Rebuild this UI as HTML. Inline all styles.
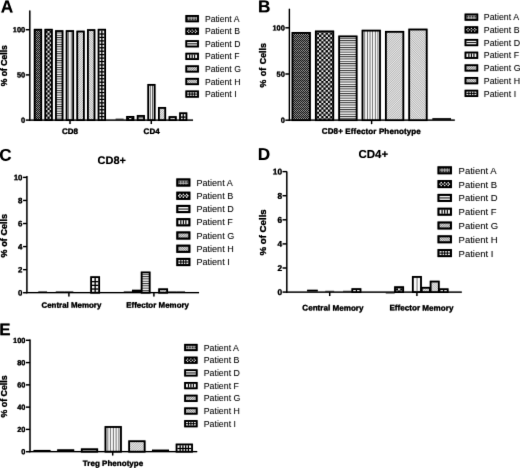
<!DOCTYPE html>
<html><head><meta charset="utf-8"><title>Figure</title>
<style>
html,body{margin:0;padding:0;background:#fff;}
body{width:520px;height:468px;overflow:hidden;}
svg{display:block;font-family:"Liberation Sans",sans-serif;fill:#000;}
</style></head><body>
<svg width="520" height="468" viewBox="0 0 520 468">
<defs>
<filter id="soft" x="0" y="0" width="520" height="468" filterUnits="userSpaceOnUse" color-interpolation-filters="sRGB"><feConvolveMatrix order="3" kernelMatrix="0 1 0 1 8 1 0 1 0" edgeMode="duplicate" preserveAlpha="true"/><feComponentTransfer><feFuncR type="gamma" exponent="1.35"/><feFuncG type="gamma" exponent="1.35"/><feFuncB type="gamma" exponent="1.35"/></feComponentTransfer></filter>
<!-- bar patterns -->
<pattern id="pA" width="2" height="4" patternUnits="userSpaceOnUse"><rect width="2" height="4" fill="#060606"/><rect x="0" y="0" width="1" height="1" fill="#e0e0e0"/><rect x="1" y="1" width="1" height="1" fill="#d0d0d0"/><rect x="0" y="2" width="1" height="1" fill="#b8b8b8"/><rect x="1" y="3" width="1" height="1" fill="#c8c8c8"/></pattern>
<pattern id="pB" width="4.4" height="4.4" patternUnits="userSpaceOnUse"><rect width="4.4" height="4.4" fill="#000"/><rect x="0" y="0" width="2.2" height="2.2" fill="#fff"/><rect x="2.2" y="2.2" width="2.2" height="2.2" fill="#fff"/></pattern>
<pattern id="pD" width="2.3" height="2.3" patternUnits="userSpaceOnUse"><rect width="2.3" height="2.3" fill="#fff"/><rect y="0" width="2.3" height="0.95" fill="#505050"/></pattern>
<pattern id="pF" width="2.55" height="2.55" patternUnits="userSpaceOnUse"><rect width="2.55" height="2.55" fill="#fff"/><rect x="0.85" width="0.7" height="2.55" fill="#585858"/></pattern>
<pattern id="pG" width="1.6" height="1.6" patternUnits="userSpaceOnUse" patternTransform="rotate(-45)"><rect width="1.6" height="1.6" fill="#fafafa"/><rect width="1.6" height="0.36" fill="#707070"/></pattern>
<pattern id="pH" width="1.6" height="1.6" patternUnits="userSpaceOnUse" patternTransform="rotate(45)"><rect width="1.6" height="1.6" fill="#fafafa"/><rect width="1.6" height="0.36" fill="#707070"/></pattern>
<pattern id="pI" width="3.1" height="3.1" patternUnits="userSpaceOnUse"><rect width="3.1" height="3.1" fill="#fff"/><rect width="3.1" height="0.8" fill="#111"/><rect width="0.8" height="3.1" fill="#111"/></pattern>
<!-- legend swatch fills (tiny interior) -->
<pattern id="pAs" width="1.6" height="1.6" patternUnits="userSpaceOnUse"><rect width="1.6" height="1.6" fill="#c4c4c4"/><rect width="0.8" height="0.8" fill="#222"/></pattern>
<pattern id="pGs" width="1.6" height="1.6" patternUnits="userSpaceOnUse" patternTransform="rotate(-45)"><rect width="1.6" height="1.6" fill="#f2f2f2"/><rect width="1.6" height="0.5" fill="#666"/></pattern>
<pattern id="pHs" width="1.6" height="1.6" patternUnits="userSpaceOnUse" patternTransform="rotate(45)"><rect width="1.6" height="1.6" fill="#f2f2f2"/><rect width="1.6" height="0.5" fill="#666"/></pattern>
</defs>
<g filter="url(#soft)">
<rect width="520" height="468" fill="#fff"/>

<!-- Panel A -->
<text transform="translate(0.7,12.4) rotate(0.05)" font-size="17.3" font-weight="bold" text-anchor="start" stroke="none">A</text>
<line x1="29.8" y1="10.549999999999999" x2="29.8" y2="120.75" stroke="#000" stroke-width="1.3"/>
<line x1="25.8" y1="120.1" x2="29.8" y2="120.1" stroke="#000" stroke-width="1.3"/>
<text transform="translate(25.2,122.75) rotate(0.05)" font-size="7.4" font-weight="bold" text-anchor="end" stroke="#000" stroke-width="0.2" >0</text>
<line x1="25.8" y1="74.89999999999999" x2="29.8" y2="74.89999999999999" stroke="#000" stroke-width="1.3"/>
<text transform="translate(25.2,77.55) rotate(0.05)" font-size="7.4" font-weight="bold" text-anchor="end" stroke="#000" stroke-width="0.2" >50</text>
<line x1="25.8" y1="29.69999999999999" x2="29.8" y2="29.69999999999999" stroke="#000" stroke-width="1.3"/>
<text transform="translate(25.2,32.35) rotate(0.05)" font-size="7.4" font-weight="bold" text-anchor="end" stroke="#000" stroke-width="0.2" >100</text>
<line x1="29.150000000000002" y1="120.1" x2="193" y2="120.1" stroke="#000" stroke-width="1.3"/>
<line x1="70" y1="120.1" x2="70" y2="124.0" stroke="#000" stroke-width="1.3"/>
<line x1="151.3" y1="120.1" x2="151.3" y2="124.0" stroke="#000" stroke-width="1.3"/>
<pattern id="pA_1" href="#pA" x="36.00" y="31.00"/>
<rect x="34.65" y="29.70" width="6.60" height="90.40" fill="url(#pA_1)" stroke="#000" stroke-width="1.7"/>
<pattern id="pB_2" href="#pB" x="3.50" y="30.85"/>
<rect x="45.30" y="29.70" width="6.60" height="90.40" fill="url(#pB_2)" stroke="#000" stroke-width="1.7"/>
<pattern id="pD_3" href="#pD" x="56.80" y="32.51"/>
<rect x="55.95" y="31.06" width="6.60" height="89.04" fill="url(#pD_3)" stroke="#000" stroke-width="1.7"/>
<pattern id="pF_4" href="#pF" x="-30.52" y="31.91" width="2.450"/>
<rect x="66.60" y="31.06" width="6.60" height="89.04" fill="url(#pF_4)" stroke="#000" stroke-width="1.7"/>
<pattern id="pG_5" href="#pG" x="78.10" y="32.96"/>
<rect x="77.25" y="31.51" width="6.60" height="88.59" fill="url(#pG_5)" stroke="#000" stroke-width="1.7"/>
<pattern id="pH_6" href="#pH" x="88.75" y="31.51"/>
<rect x="87.90" y="30.06" width="6.60" height="90.04" fill="url(#pH_6)" stroke="#000" stroke-width="1.7"/>
<rect x="98.55" y="29.70" width="6.60" height="90.40" fill="#fff" stroke="#000" stroke-width="1.7"/>
<rect x="101.28" y="30.55" width="1.15" height="89.55" fill="#000"/>
<rect x="99.40" y="33.42" width="4.90" height="1.15" fill="#000"/>
<rect x="99.40" y="36.86" width="4.90" height="1.15" fill="#000"/>
<rect x="99.40" y="40.31" width="4.90" height="1.15" fill="#000"/>
<rect x="99.40" y="43.75" width="4.90" height="1.15" fill="#000"/>
<rect x="99.40" y="47.20" width="4.90" height="1.15" fill="#000"/>
<rect x="99.40" y="50.64" width="4.90" height="1.15" fill="#000"/>
<rect x="99.40" y="54.08" width="4.90" height="1.15" fill="#000"/>
<rect x="99.40" y="57.53" width="4.90" height="1.15" fill="#000"/>
<rect x="99.40" y="60.97" width="4.90" height="1.15" fill="#000"/>
<rect x="99.40" y="64.42" width="4.90" height="1.15" fill="#000"/>
<rect x="99.40" y="67.86" width="4.90" height="1.15" fill="#000"/>
<rect x="99.40" y="71.31" width="4.90" height="1.15" fill="#000"/>
<rect x="99.40" y="74.75" width="4.90" height="1.15" fill="#000"/>
<rect x="99.40" y="78.19" width="4.90" height="1.15" fill="#000"/>
<rect x="99.40" y="81.64" width="4.90" height="1.15" fill="#000"/>
<rect x="99.40" y="85.08" width="4.90" height="1.15" fill="#000"/>
<rect x="99.40" y="88.53" width="4.90" height="1.15" fill="#000"/>
<rect x="99.40" y="91.97" width="4.90" height="1.15" fill="#000"/>
<rect x="99.40" y="95.42" width="4.90" height="1.15" fill="#000"/>
<rect x="99.40" y="98.86" width="4.90" height="1.15" fill="#000"/>
<rect x="99.40" y="102.30" width="4.90" height="1.15" fill="#000"/>
<rect x="99.40" y="105.75" width="4.90" height="1.15" fill="#000"/>
<rect x="99.40" y="109.19" width="4.90" height="1.15" fill="#000"/>
<rect x="99.40" y="112.64" width="4.90" height="1.15" fill="#000"/>
<rect x="99.40" y="116.08" width="4.90" height="1.15" fill="#000"/>
<rect x="115.60" y="118.75" width="8.00" height="0.70" fill="#000"/>
<pattern id="pB_7" href="#pB" x="85.15" y="118.00"/>
<rect x="127.05" y="116.85" width="6.40" height="3.25" fill="url(#pB_7)" stroke="#000" stroke-width="1.7"/>
<pattern id="pD_8" href="#pD" x="138.50" y="117.39"/>
<rect x="137.65" y="115.94" width="6.40" height="4.16" fill="url(#pD_8)" stroke="#000" stroke-width="1.7"/>
<pattern id="pF_9" href="#pF" x="55.08" y="85.69" width="2.350"/>
<rect x="148.25" y="84.84" width="6.40" height="35.26" fill="url(#pF_9)" stroke="#000" stroke-width="1.7"/>
<pattern id="pG_10" href="#pG" x="159.70" y="109.35"/>
<rect x="158.85" y="107.90" width="6.40" height="12.20" fill="url(#pG_10)" stroke="#000" stroke-width="1.7"/>
<pattern id="pH_11" href="#pH" x="170.30" y="118.48"/>
<rect x="169.45" y="117.03" width="6.40" height="3.07" fill="url(#pH_11)" stroke="#000" stroke-width="1.7"/>
<rect x="180.05" y="113.23" width="6.40" height="6.87" fill="#fff" stroke="#000" stroke-width="1.7"/>
<rect x="182.67" y="114.08" width="1.15" height="6.02" fill="#000"/>
<rect x="180.90" y="116.51" width="4.70" height="1.15" fill="#000"/>
<text transform="translate(70,133.9) rotate(0.05)" font-size="8.0" font-weight="bold" text-anchor="middle" stroke="#000" stroke-width="0.2" >CD8</text>
<text transform="translate(151.6,133.9) rotate(0.05)" font-size="8.0" font-weight="bold" text-anchor="middle" stroke="#000" stroke-width="0.2" >CD4</text>
<text transform="translate(6.8,65.7) rotate(-90)" font-size="8.6" font-weight="bold" text-anchor="middle" stroke="#000" stroke-width="0.2" >% of Cells</text>
<rect x="185.40" y="15.05" width="13.5" height="7.2" fill="#000"/>
<rect x="187.16" y="16.81" width="9.97" height="3.67" fill="url(#pAs)"/>
<text x="204.9" y="21.75" font-size="8.65" font-weight="normal" text-anchor="start" fill="#262626">Patient A</text>
<rect x="185.40" y="27.62" width="13.5" height="7.2" fill="#000"/>
<circle cx="188.83" cy="29.96" r="0.77" fill="#fff"/>
<circle cx="188.83" cy="32.48" r="0.77" fill="#fff"/>
<circle cx="192.15" cy="29.96" r="0.77" fill="#fff"/>
<circle cx="192.15" cy="32.48" r="0.77" fill="#fff"/>
<circle cx="195.47" cy="29.96" r="0.77" fill="#fff"/>
<circle cx="195.47" cy="32.48" r="0.77" fill="#fff"/>
<circle cx="187.63" cy="31.22" r="0.77" fill="#fff"/>
<circle cx="190.49" cy="31.22" r="0.77" fill="#fff"/>
<circle cx="193.81" cy="31.22" r="0.77" fill="#fff"/>
<circle cx="196.67" cy="31.22" r="0.77" fill="#fff"/>
<text x="204.9" y="34.32" font-size="8.65" font-weight="normal" text-anchor="start" fill="#262626">Patient B</text>
<rect x="185.40" y="40.19" width="13.5" height="7.2" fill="#000"/>
<rect x="187.16" y="41.95" width="9.97" height="3.67" fill="#fff"/>
<rect x="187.16" y="43.39" width="9.97" height="0.9" fill="#181818"/>
<text x="204.9" y="46.89" font-size="8.65" font-weight="normal" text-anchor="start" fill="#262626">Patient D</text>
<rect x="185.40" y="52.76" width="13.5" height="7.2" fill="#000"/>
<rect x="187.16" y="54.52" width="9.97" height="3.67" fill="#fff"/>
<rect x="189.16" y="54.52" width="1.0" height="3.67" fill="#000"/>
<rect x="191.65" y="54.52" width="1.0" height="3.67" fill="#000"/>
<rect x="194.14" y="54.52" width="1.0" height="3.67" fill="#000"/>
<text x="204.9" y="59.46" font-size="8.65" font-weight="normal" text-anchor="start" fill="#262626">Patient F</text>
<rect x="185.40" y="65.33" width="13.5" height="7.2" fill="#000"/>
<rect x="187.16" y="67.09" width="9.97" height="3.67" fill="url(#pGs)"/>
<text x="204.9" y="72.03" font-size="8.65" font-weight="normal" text-anchor="start" fill="#262626">Patient G</text>
<rect x="185.40" y="77.90" width="13.5" height="7.2" fill="#000"/>
<rect x="187.16" y="79.66" width="9.97" height="3.67" fill="url(#pHs)"/>
<text x="204.9" y="84.6" font-size="8.65" font-weight="normal" text-anchor="start" fill="#262626">Patient H</text>
<rect x="185.40" y="90.47" width="13.5" height="7.2" fill="#000"/>
<rect x="187.16" y="92.23" width="9.97" height="3.67" fill="#fff"/>
<rect x="189.21" y="92.23" width="0.9" height="3.67" fill="#000"/>
<rect x="191.70" y="92.23" width="0.9" height="3.67" fill="#000"/>
<rect x="194.19" y="92.23" width="0.9" height="3.67" fill="#000"/>
<rect x="187.16" y="93.62" width="9.97" height="0.9" fill="#000"/>
<text x="204.9" y="97.17" font-size="8.65" font-weight="normal" text-anchor="start" fill="#262626">Patient I</text>
<!-- Panel B -->
<text transform="translate(257.9,12.3) rotate(0.05)" font-size="17.2" font-weight="bold" text-anchor="start" stroke="none">B</text>
<line x1="289.4" y1="8.75" x2="289.4" y2="120.85000000000001" stroke="#000" stroke-width="1.3"/>
<line x1="285.4" y1="120.2" x2="289.4" y2="120.2" stroke="#000" stroke-width="1.3"/>
<text transform="translate(284.8,122.85) rotate(0.05)" font-size="7.4" font-weight="bold" text-anchor="end" stroke="#000" stroke-width="0.2" >0</text>
<line x1="285.4" y1="74.0" x2="289.4" y2="74.0" stroke="#000" stroke-width="1.3"/>
<text transform="translate(284.8,76.65) rotate(0.05)" font-size="7.4" font-weight="bold" text-anchor="end" stroke="#000" stroke-width="0.2" >50</text>
<line x1="285.4" y1="27.799999999999997" x2="289.4" y2="27.799999999999997" stroke="#000" stroke-width="1.3"/>
<text transform="translate(284.8,30.45) rotate(0.05)" font-size="7.4" font-weight="bold" text-anchor="end" stroke="#000" stroke-width="0.2" >100</text>
<line x1="288.75" y1="120.2" x2="454.8" y2="120.2" stroke="#000" stroke-width="1.3"/>
<line x1="371.6" y1="120.2" x2="371.6" y2="124.10000000000001" stroke="#000" stroke-width="1.3"/>
<pattern id="pA_12" href="#pA" x="293.00" y="34.00"/>
<rect x="292.45" y="32.90" width="17.50" height="87.30" fill="url(#pA_12)" stroke="#000" stroke-width="1.7"/>
<pattern id="pB_13" href="#pB" x="279.45" y="32.55"/>
<rect x="315.80" y="31.40" width="17.50" height="88.80" fill="url(#pB_13)" stroke="#000" stroke-width="1.7"/>
<pattern id="pD_14" href="#pD" x="340.00" y="37.85"/>
<rect x="339.15" y="36.40" width="17.50" height="83.80" fill="url(#pD_14)" stroke="#000" stroke-width="1.7"/>
<pattern id="pF_15" href="#pF" x="258.13" y="31.45" width="2.633"/>
<rect x="362.50" y="30.60" width="17.50" height="89.60" fill="url(#pF_15)" stroke="#000" stroke-width="1.7"/>
<pattern id="pG_16" href="#pG" x="386.70" y="33.25"/>
<rect x="385.85" y="31.80" width="17.50" height="88.40" fill="url(#pG_16)" stroke="#000" stroke-width="1.7"/>
<pattern id="pH_17" href="#pH" x="410.05" y="30.95"/>
<rect x="409.20" y="29.50" width="17.50" height="90.70" fill="url(#pH_17)" stroke="#000" stroke-width="1.7"/>
<rect x="432.40" y="118.25" width="18.60" height="1.50" fill="#000"/>
<text transform="translate(371.3,133.9) rotate(0.05)" font-size="8.0" font-weight="bold" text-anchor="middle" stroke="#000" stroke-width="0.2" textLength="99.0">CD8+ Effector Phenotype</text>
<text transform="translate(266.4,65.4) rotate(-90)" font-size="8.8" font-weight="bold" text-anchor="middle" stroke="#000" stroke-width="0.2" word-spacing="1.2">% of Cells</text>
<rect x="464.60" y="13.55" width="13.6" height="7.2" fill="#000"/>
<rect x="466.36" y="15.31" width="10.07" height="3.67" fill="url(#pAs)"/>
<text x="483.8" y="20.3" font-size="8.8" font-weight="normal" text-anchor="start" fill="#262626">Patient A</text>
<rect x="464.60" y="26.25" width="13.6" height="7.2" fill="#000"/>
<circle cx="468.04" cy="28.59" r="0.77" fill="#fff"/>
<circle cx="468.04" cy="31.11" r="0.77" fill="#fff"/>
<circle cx="471.40" cy="28.59" r="0.77" fill="#fff"/>
<circle cx="471.40" cy="31.11" r="0.77" fill="#fff"/>
<circle cx="474.76" cy="28.59" r="0.77" fill="#fff"/>
<circle cx="474.76" cy="31.11" r="0.77" fill="#fff"/>
<circle cx="466.83" cy="29.85" r="0.77" fill="#fff"/>
<circle cx="469.72" cy="29.85" r="0.77" fill="#fff"/>
<circle cx="473.08" cy="29.85" r="0.77" fill="#fff"/>
<circle cx="475.97" cy="29.85" r="0.77" fill="#fff"/>
<text x="483.8" y="33.0" font-size="8.8" font-weight="normal" text-anchor="start" fill="#262626">Patient B</text>
<rect x="464.60" y="38.95" width="13.6" height="7.2" fill="#000"/>
<rect x="466.36" y="40.71" width="10.07" height="3.67" fill="#fff"/>
<rect x="466.36" y="42.15" width="10.07" height="0.9" fill="#181818"/>
<text x="483.8" y="45.7" font-size="8.8" font-weight="normal" text-anchor="start" fill="#262626">Patient D</text>
<rect x="464.60" y="51.65" width="13.6" height="7.2" fill="#000"/>
<rect x="466.36" y="53.41" width="10.07" height="3.67" fill="#fff"/>
<rect x="468.38" y="53.41" width="1.0" height="3.67" fill="#000"/>
<rect x="470.90" y="53.41" width="1.0" height="3.67" fill="#000"/>
<rect x="473.42" y="53.41" width="1.0" height="3.67" fill="#000"/>
<text x="483.8" y="58.4" font-size="8.8" font-weight="normal" text-anchor="start" fill="#262626">Patient F</text>
<rect x="464.60" y="64.35" width="13.6" height="7.2" fill="#000"/>
<rect x="466.36" y="66.11" width="10.07" height="3.67" fill="url(#pGs)"/>
<text x="483.8" y="71.1" font-size="8.8" font-weight="normal" text-anchor="start" fill="#262626">Patient G</text>
<rect x="464.60" y="77.05" width="13.6" height="7.2" fill="#000"/>
<rect x="466.36" y="78.81" width="10.07" height="3.67" fill="url(#pHs)"/>
<text x="483.8" y="83.8" font-size="8.8" font-weight="normal" text-anchor="start" fill="#262626">Patient H</text>
<rect x="464.60" y="89.75" width="13.6" height="7.2" fill="#000"/>
<rect x="466.36" y="91.51" width="10.07" height="3.67" fill="#fff"/>
<rect x="468.43" y="91.51" width="0.9" height="3.67" fill="#000"/>
<rect x="470.95" y="91.51" width="0.9" height="3.67" fill="#000"/>
<rect x="473.47" y="91.51" width="0.9" height="3.67" fill="#000"/>
<rect x="466.36" y="92.90" width="10.07" height="0.9" fill="#000"/>
<text x="483.8" y="96.5" font-size="8.8" font-weight="normal" text-anchor="start" fill="#262626">Patient I</text>
<!-- Panel C -->
<text transform="translate(-0.7,160.8) rotate(0.05)" font-size="17.0" font-weight="bold" text-anchor="start" stroke="none">C</text>
<text transform="translate(97.6,164.0) rotate(0.05)" font-size="11" font-weight="bold" text-anchor="start" stroke="none">CD8+</text>
<line x1="26.9" y1="176.04999999999998" x2="26.9" y2="293.34999999999997" stroke="#000" stroke-width="1.3"/>
<line x1="23.099999999999998" y1="292.7" x2="26.9" y2="292.7" stroke="#000" stroke-width="1.3"/>
<text transform="translate(22.5,295.53) rotate(0.05)" font-size="7.9" font-weight="bold" text-anchor="end" stroke="#000" stroke-width="0.2" >0</text>
<line x1="23.099999999999998" y1="269.64" x2="26.9" y2="269.64" stroke="#000" stroke-width="1.3"/>
<text transform="translate(22.5,272.47) rotate(0.05)" font-size="7.9" font-weight="bold" text-anchor="end" stroke="#000" stroke-width="0.2" >2</text>
<line x1="23.099999999999998" y1="246.57999999999998" x2="26.9" y2="246.57999999999998" stroke="#000" stroke-width="1.3"/>
<text transform="translate(22.5,249.41) rotate(0.05)" font-size="7.9" font-weight="bold" text-anchor="end" stroke="#000" stroke-width="0.2" >4</text>
<line x1="23.099999999999998" y1="223.51999999999998" x2="26.9" y2="223.51999999999998" stroke="#000" stroke-width="1.3"/>
<text transform="translate(22.5,226.35) rotate(0.05)" font-size="7.9" font-weight="bold" text-anchor="end" stroke="#000" stroke-width="0.2" >6</text>
<line x1="23.099999999999998" y1="200.45999999999998" x2="26.9" y2="200.45999999999998" stroke="#000" stroke-width="1.3"/>
<text transform="translate(22.5,203.29) rotate(0.05)" font-size="7.9" font-weight="bold" text-anchor="end" stroke="#000" stroke-width="0.2" >8</text>
<line x1="23.099999999999998" y1="177.39999999999998" x2="26.9" y2="177.39999999999998" stroke="#000" stroke-width="1.3"/>
<text transform="translate(22.5,180.23) rotate(0.05)" font-size="7.9" font-weight="bold" text-anchor="end" stroke="#000" stroke-width="0.2" >10</text>
<line x1="26.25" y1="292.7" x2="199" y2="292.7" stroke="#000" stroke-width="1.3"/>
<line x1="68.9" y1="292.7" x2="68.9" y2="296.59999999999997" stroke="#000" stroke-width="1.3"/>
<line x1="153.9" y1="292.7" x2="153.9" y2="296.59999999999997" stroke="#000" stroke-width="1.3"/>
<rect x="38.28" y="291.55" width="8.75" height="0.50" fill="#000"/>
<rect x="55.78" y="291.55" width="8.75" height="0.50" fill="#000"/>
<rect x="64.53" y="291.55" width="8.75" height="0.50" fill="#000"/>
<rect x="91.12" y="277.13" width="8.05" height="15.57" fill="#fff" stroke="#000" stroke-width="1.7"/>
<rect x="94.58" y="277.98" width="1.15" height="14.72" fill="#000"/>
<rect x="91.98" y="281.09" width="6.35" height="1.15" fill="#000"/>
<rect x="91.98" y="284.77" width="6.35" height="1.15" fill="#000"/>
<rect x="91.98" y="288.45" width="6.35" height="1.15" fill="#000"/>
<rect x="123.78" y="291.55" width="8.75" height="0.50" fill="#000"/>
<rect x="132.03" y="289.75" width="9.25" height="2.30" fill="#000"/>
<pattern id="pD_18" href="#pD" x="142.47" y="273.86"/>
<rect x="141.62" y="272.41" width="8.05" height="20.29" fill="url(#pD_18)" stroke="#000" stroke-width="1.7"/>
<pattern id="pG_19" href="#pG" x="159.97" y="290.69"/>
<rect x="159.12" y="289.24" width="8.05" height="3.46" fill="url(#pG_19)" stroke="#000" stroke-width="1.7"/>
<rect x="167.53" y="291.55" width="8.75" height="0.50" fill="#000"/>
<rect x="176.28" y="291.55" width="8.75" height="0.50" fill="#000"/>
<text transform="translate(41.5,307.7) rotate(0.05)" font-size="7.9" font-weight="bold" text-anchor="start" stroke="#000" stroke-width="0.2" textLength="59.8">Central Memory</text>
<text transform="translate(126.2,307.7) rotate(0.05)" font-size="7.9" font-weight="bold" text-anchor="start" stroke="#000" stroke-width="0.2" textLength="62.8">Effector Memory</text>
<text transform="translate(7.2,235.7) rotate(-90)" font-size="9.0" font-weight="bold" text-anchor="middle" stroke="#000" stroke-width="0.2" word-spacing="0.3">% of Cells</text>
<rect x="176.30" y="178.40" width="14.1" height="8.2" fill="#000"/>
<rect x="178.31" y="180.41" width="10.08" height="4.18" fill="url(#pAs)"/>
<text x="196.5" y="185.74" font-size="9.05" font-weight="normal" text-anchor="start" fill="#262626">Patient A</text>
<rect x="176.30" y="191.65" width="14.1" height="8.2" fill="#000"/>
<circle cx="179.99" cy="194.32" r="0.88" fill="#fff"/>
<circle cx="179.99" cy="197.18" r="0.88" fill="#fff"/>
<circle cx="183.35" cy="194.32" r="0.88" fill="#fff"/>
<circle cx="183.35" cy="197.18" r="0.88" fill="#fff"/>
<circle cx="186.71" cy="194.32" r="0.88" fill="#fff"/>
<circle cx="186.71" cy="197.18" r="0.88" fill="#fff"/>
<circle cx="178.84" cy="195.75" r="0.88" fill="#fff"/>
<circle cx="181.67" cy="195.75" r="0.88" fill="#fff"/>
<circle cx="185.03" cy="195.75" r="0.88" fill="#fff"/>
<circle cx="187.86" cy="195.75" r="0.88" fill="#fff"/>
<text x="196.5" y="198.99" font-size="9.05" font-weight="normal" text-anchor="start" fill="#262626">Patient B</text>
<rect x="176.30" y="204.90" width="14.1" height="8.2" fill="#000"/>
<rect x="178.31" y="206.91" width="10.08" height="4.18" fill="#fff"/>
<rect x="178.31" y="208.60" width="10.08" height="0.9" fill="#181818"/>
<text x="196.5" y="212.24" font-size="9.05" font-weight="normal" text-anchor="start" fill="#262626">Patient D</text>
<rect x="176.30" y="218.15" width="14.1" height="8.2" fill="#000"/>
<rect x="178.31" y="220.16" width="10.08" height="4.18" fill="#fff"/>
<rect x="180.33" y="220.16" width="1.0" height="4.18" fill="#000"/>
<rect x="182.85" y="220.16" width="1.0" height="4.18" fill="#000"/>
<rect x="185.37" y="220.16" width="1.0" height="4.18" fill="#000"/>
<text x="196.5" y="225.49" font-size="9.05" font-weight="normal" text-anchor="start" fill="#262626">Patient F</text>
<rect x="176.30" y="231.40" width="14.1" height="8.2" fill="#000"/>
<rect x="178.31" y="233.41" width="10.08" height="4.18" fill="url(#pGs)"/>
<text x="196.5" y="238.74" font-size="9.05" font-weight="normal" text-anchor="start" fill="#262626">Patient G</text>
<rect x="176.30" y="244.65" width="14.1" height="8.2" fill="#000"/>
<rect x="178.31" y="246.66" width="10.08" height="4.18" fill="url(#pHs)"/>
<text x="196.5" y="251.99" font-size="9.05" font-weight="normal" text-anchor="start" fill="#262626">Patient H</text>
<rect x="176.30" y="257.90" width="14.1" height="8.2" fill="#000"/>
<rect x="178.31" y="259.91" width="10.08" height="4.18" fill="#fff"/>
<rect x="180.38" y="259.91" width="0.9" height="4.18" fill="#000"/>
<rect x="182.90" y="259.91" width="0.9" height="4.18" fill="#000"/>
<rect x="185.42" y="259.91" width="0.9" height="4.18" fill="#000"/>
<rect x="178.31" y="261.55" width="10.08" height="0.9" fill="#000"/>
<text x="196.5" y="265.24" font-size="9.05" font-weight="normal" text-anchor="start" fill="#262626">Patient I</text>
<!-- Panel D -->
<text transform="translate(257.8,159.9) rotate(0.05)" font-size="17.2" font-weight="bold" text-anchor="start" stroke="none">D</text>
<text transform="translate(358.4,158.0) rotate(0.05)" font-size="11.5" font-weight="bold" text-anchor="start" stroke="none">CD4+</text>
<line x1="286.8" y1="171.45" x2="286.8" y2="292.75" stroke="#000" stroke-width="1.3"/>
<line x1="282.6" y1="292.1" x2="286.8" y2="292.1" stroke="#000" stroke-width="1.3"/>
<text transform="translate(282.0,295.07) rotate(0.05)" font-size="8.3" font-weight="bold" text-anchor="end" stroke="#000" stroke-width="0.2" >0</text>
<line x1="282.6" y1="268.0" x2="286.8" y2="268.0" stroke="#000" stroke-width="1.3"/>
<text transform="translate(282.0,270.97) rotate(0.05)" font-size="8.3" font-weight="bold" text-anchor="end" stroke="#000" stroke-width="0.2" >2</text>
<line x1="282.6" y1="243.90000000000003" x2="286.8" y2="243.90000000000003" stroke="#000" stroke-width="1.3"/>
<text transform="translate(282.0,246.87) rotate(0.05)" font-size="8.3" font-weight="bold" text-anchor="end" stroke="#000" stroke-width="0.2" >4</text>
<line x1="282.6" y1="219.8" x2="286.8" y2="219.8" stroke="#000" stroke-width="1.3"/>
<text transform="translate(282.0,222.77) rotate(0.05)" font-size="8.3" font-weight="bold" text-anchor="end" stroke="#000" stroke-width="0.2" >6</text>
<line x1="282.6" y1="195.70000000000002" x2="286.8" y2="195.70000000000002" stroke="#000" stroke-width="1.3"/>
<text transform="translate(282.0,198.67) rotate(0.05)" font-size="8.3" font-weight="bold" text-anchor="end" stroke="#000" stroke-width="0.2" >8</text>
<line x1="282.6" y1="171.60000000000002" x2="286.8" y2="171.60000000000002" stroke="#000" stroke-width="1.3"/>
<text transform="translate(282.0,174.57) rotate(0.05)" font-size="8.3" font-weight="bold" text-anchor="end" stroke="#000" stroke-width="0.2" >10</text>
<line x1="286.15000000000003" y1="292.1" x2="461.8" y2="292.1" stroke="#000" stroke-width="1.3"/>
<line x1="329.7" y1="292.1" x2="329.7" y2="296.0" stroke="#000" stroke-width="1.3"/>
<line x1="416.9" y1="292.1" x2="416.9" y2="296.0" stroke="#000" stroke-width="1.3"/>
<rect x="307.15" y="289.75" width="10.60" height="1.70" fill="#000"/>
<rect x="325.25" y="290.85" width="8.90" height="0.60" fill="#000"/>
<rect x="343.05" y="290.85" width="8.90" height="0.60" fill="#000"/>
<rect x="352.30" y="289.09" width="8.20" height="3.01" fill="#fff" stroke="#000" stroke-width="1.7"/>
<rect x="355.83" y="289.94" width="1.15" height="2.16" fill="#000"/>
<rect x="385.75" y="292.75" width="8.90" height="0.60" fill="#000"/>
<pattern id="pB_20" href="#pB" x="354.00" y="288.31"/>
<rect x="395.00" y="287.16" width="8.20" height="4.94" fill="url(#pB_20)" stroke="#000" stroke-width="1.7"/>
<pattern id="pF_21" href="#pF" x="155.70" y="277.77" width="6.500"/>
<rect x="412.80" y="276.92" width="8.20" height="15.18" fill="url(#pF_21)" stroke="#000" stroke-width="1.7"/>
<pattern id="pG_22" href="#pG" x="422.55" y="289.21"/>
<rect x="421.70" y="287.76" width="8.20" height="4.34" fill="url(#pG_22)" stroke="#000" stroke-width="1.7"/>
<pattern id="pH_23" href="#pH" x="431.45" y="283.01"/>
<rect x="430.60" y="281.56" width="8.20" height="10.54" fill="url(#pH_23)" stroke="#000" stroke-width="1.7"/>
<rect x="439.50" y="289.21" width="8.20" height="2.89" fill="#fff" stroke="#000" stroke-width="1.7"/>
<rect x="443.02" y="290.06" width="1.15" height="2.04" fill="#000"/>
<text transform="translate(302.3,310.6) rotate(0.05)" font-size="8.1" font-weight="bold" text-anchor="start" stroke="#000" stroke-width="0.2" textLength="61.2">Central Memory</text>
<text transform="translate(389.4,310.6) rotate(0.05)" font-size="8.1" font-weight="bold" text-anchor="start" stroke="#000" stroke-width="0.2" textLength="64">Effector Memory</text>
<text transform="translate(266.3,232.4) rotate(-90)" font-size="9.7" font-weight="bold" text-anchor="middle" stroke="#000" stroke-width="0.2" >% of Cells</text>
<rect x="437.50" y="166.30" width="14.4" height="8.0" fill="#000"/>
<rect x="439.46" y="168.26" width="10.48" height="4.08" fill="url(#pAs)"/>
<text x="458.6" y="173.7" font-size="9.5" font-weight="normal" text-anchor="start" fill="#262626">Patient A</text>
<rect x="437.50" y="180.10" width="14.4" height="8.0" fill="#000"/>
<circle cx="441.21" cy="182.70" r="0.86" fill="#fff"/>
<circle cx="441.21" cy="185.50" r="0.86" fill="#fff"/>
<circle cx="444.70" cy="182.70" r="0.86" fill="#fff"/>
<circle cx="444.70" cy="185.50" r="0.86" fill="#fff"/>
<circle cx="448.19" cy="182.70" r="0.86" fill="#fff"/>
<circle cx="448.19" cy="185.50" r="0.86" fill="#fff"/>
<circle cx="439.97" cy="184.10" r="0.86" fill="#fff"/>
<circle cx="442.95" cy="184.10" r="0.86" fill="#fff"/>
<circle cx="446.45" cy="184.10" r="0.86" fill="#fff"/>
<circle cx="449.43" cy="184.10" r="0.86" fill="#fff"/>
<text x="458.6" y="187.5" font-size="9.5" font-weight="normal" text-anchor="start" fill="#262626">Patient B</text>
<rect x="437.50" y="193.90" width="14.4" height="8.0" fill="#000"/>
<rect x="439.46" y="195.86" width="10.48" height="4.08" fill="#fff"/>
<rect x="439.46" y="197.50" width="10.48" height="0.9" fill="#181818"/>
<text x="458.6" y="201.3" font-size="9.5" font-weight="normal" text-anchor="start" fill="#262626">Patient D</text>
<rect x="437.50" y="207.70" width="14.4" height="8.0" fill="#000"/>
<rect x="439.46" y="209.66" width="10.48" height="4.08" fill="#fff"/>
<rect x="441.58" y="209.66" width="1.0" height="4.08" fill="#000"/>
<rect x="444.20" y="209.66" width="1.0" height="4.08" fill="#000"/>
<rect x="446.82" y="209.66" width="1.0" height="4.08" fill="#000"/>
<text x="458.6" y="215.1" font-size="9.5" font-weight="normal" text-anchor="start" fill="#262626">Patient F</text>
<rect x="437.50" y="221.50" width="14.4" height="8.0" fill="#000"/>
<rect x="439.46" y="223.46" width="10.48" height="4.08" fill="url(#pGs)"/>
<text x="458.6" y="228.9" font-size="9.5" font-weight="normal" text-anchor="start" fill="#262626">Patient G</text>
<rect x="437.50" y="235.30" width="14.4" height="8.0" fill="#000"/>
<rect x="439.46" y="237.26" width="10.48" height="4.08" fill="url(#pHs)"/>
<text x="458.6" y="242.7" font-size="9.5" font-weight="normal" text-anchor="start" fill="#262626">Patient H</text>
<rect x="437.50" y="249.10" width="14.4" height="8.0" fill="#000"/>
<rect x="439.46" y="251.06" width="10.48" height="4.08" fill="#fff"/>
<rect x="441.63" y="251.06" width="0.9" height="4.08" fill="#000"/>
<rect x="444.25" y="251.06" width="0.9" height="4.08" fill="#000"/>
<rect x="446.87" y="251.06" width="0.9" height="4.08" fill="#000"/>
<rect x="439.46" y="252.65" width="10.48" height="0.9" fill="#000"/>
<text x="458.6" y="256.5" font-size="9.5" font-weight="normal" text-anchor="start" fill="#262626">Patient I</text>
<!-- Panel E -->
<text transform="translate(-0.85,335.2) rotate(0.05)" font-size="17.0" font-weight="bold" text-anchor="start" stroke="none">E</text>
<line x1="30.0" y1="339.55" x2="30.0" y2="452.34999999999997" stroke="#000" stroke-width="1.3"/>
<line x1="26.0" y1="451.7" x2="30.0" y2="451.7" stroke="#000" stroke-width="1.3"/>
<text transform="translate(25.4,454.35) rotate(0.05)" font-size="7.4" font-weight="bold" text-anchor="end" stroke="#000" stroke-width="0.2" >0</text>
<line x1="26.0" y1="429.41999999999996" x2="30.0" y2="429.41999999999996" stroke="#000" stroke-width="1.3"/>
<text transform="translate(25.4,432.07) rotate(0.05)" font-size="7.4" font-weight="bold" text-anchor="end" stroke="#000" stroke-width="0.2" >20</text>
<line x1="26.0" y1="407.14" x2="30.0" y2="407.14" stroke="#000" stroke-width="1.3"/>
<text transform="translate(25.4,409.79) rotate(0.05)" font-size="7.4" font-weight="bold" text-anchor="end" stroke="#000" stroke-width="0.2" >40</text>
<line x1="26.0" y1="384.86" x2="30.0" y2="384.86" stroke="#000" stroke-width="1.3"/>
<text transform="translate(25.4,387.51) rotate(0.05)" font-size="7.4" font-weight="bold" text-anchor="end" stroke="#000" stroke-width="0.2" >60</text>
<line x1="26.0" y1="362.58" x2="30.0" y2="362.58" stroke="#000" stroke-width="1.3"/>
<text transform="translate(25.4,365.23) rotate(0.05)" font-size="7.4" font-weight="bold" text-anchor="end" stroke="#000" stroke-width="0.2" >80</text>
<line x1="26.0" y1="340.29999999999995" x2="30.0" y2="340.29999999999995" stroke="#000" stroke-width="1.3"/>
<text transform="translate(25.4,342.95) rotate(0.05)" font-size="7.4" font-weight="bold" text-anchor="end" stroke="#000" stroke-width="0.2" >100</text>
<line x1="29.35" y1="451.7" x2="197.2" y2="451.7" stroke="#000" stroke-width="1.3"/>
<line x1="112.7" y1="451.7" x2="112.7" y2="455.59999999999997" stroke="#000" stroke-width="1.3"/>
<rect x="33.50" y="449.95" width="17.00" height="1.10" fill="#000"/>
<rect x="57.20" y="449.35" width="17.00" height="1.70" fill="#000"/>
<pattern id="pD_24" href="#pD" x="82.60" y="450.70"/>
<rect x="81.75" y="449.25" width="15.50" height="2.45" fill="url(#pD_24)" stroke="#000" stroke-width="1.7"/>
<pattern id="pF_25" href="#pF" x="-3.92" y="427.82" width="2.760"/>
<rect x="105.45" y="426.97" width="15.50" height="24.73" fill="url(#pF_25)" stroke="#000" stroke-width="1.7"/>
<pattern id="pG_26" href="#pG" x="130.00" y="442.68"/>
<rect x="129.15" y="441.23" width="15.50" height="10.47" fill="url(#pG_26)" stroke="#000" stroke-width="1.7"/>
<rect x="152.00" y="449.65" width="17.00" height="1.40" fill="#000"/>
<rect x="176.55" y="444.46" width="15.50" height="7.24" fill="#fff" stroke="#000" stroke-width="1.7"/>
<rect x="179.58" y="445.31" width="1.15" height="6.39" fill="#000"/>
<rect x="182.34" y="445.31" width="1.15" height="6.39" fill="#000"/>
<rect x="185.10" y="445.31" width="1.15" height="6.39" fill="#000"/>
<rect x="187.86" y="445.31" width="1.15" height="6.39" fill="#000"/>
<rect x="177.40" y="447.93" width="13.80" height="1.15" fill="#000"/>
<text transform="translate(82.8,465.9) rotate(0.05)" font-size="8" font-weight="bold" text-anchor="start" stroke="#000" stroke-width="0.2" textLength="60.4">Treg Phenotype</text>
<text transform="translate(7.1,396.4) rotate(-90)" font-size="8.8" font-weight="bold" text-anchor="middle" stroke="#000" stroke-width="0.2" >% of Cells</text>
<rect x="184.20" y="343.90" width="13.4" height="7.2" fill="#000"/>
<rect x="185.96" y="345.66" width="9.87" height="3.67" fill="url(#pAs)"/>
<text x="203.7" y="350.65" font-size="8.8" font-weight="normal" text-anchor="start" fill="#262626">Patient A</text>
<rect x="184.20" y="356.60" width="13.4" height="7.2" fill="#000"/>
<circle cx="187.61" cy="358.94" r="0.77" fill="#fff"/>
<circle cx="187.61" cy="361.46" r="0.77" fill="#fff"/>
<circle cx="190.90" cy="358.94" r="0.77" fill="#fff"/>
<circle cx="190.90" cy="361.46" r="0.77" fill="#fff"/>
<circle cx="194.19" cy="358.94" r="0.77" fill="#fff"/>
<circle cx="194.19" cy="361.46" r="0.77" fill="#fff"/>
<circle cx="186.43" cy="360.20" r="0.77" fill="#fff"/>
<circle cx="189.25" cy="360.20" r="0.77" fill="#fff"/>
<circle cx="192.55" cy="360.20" r="0.77" fill="#fff"/>
<circle cx="195.37" cy="360.20" r="0.77" fill="#fff"/>
<text x="203.7" y="363.35" font-size="8.8" font-weight="normal" text-anchor="start" fill="#262626">Patient B</text>
<rect x="184.20" y="369.30" width="13.4" height="7.2" fill="#000"/>
<rect x="185.96" y="371.06" width="9.87" height="3.67" fill="#fff"/>
<rect x="185.96" y="372.50" width="9.87" height="0.9" fill="#181818"/>
<text x="203.7" y="376.05" font-size="8.8" font-weight="normal" text-anchor="start" fill="#262626">Patient D</text>
<rect x="184.20" y="382.00" width="13.4" height="7.2" fill="#000"/>
<rect x="185.96" y="383.76" width="9.87" height="3.67" fill="#fff"/>
<rect x="187.93" y="383.76" width="1.0" height="3.67" fill="#000"/>
<rect x="190.40" y="383.76" width="1.0" height="3.67" fill="#000"/>
<rect x="192.87" y="383.76" width="1.0" height="3.67" fill="#000"/>
<text x="203.7" y="388.75" font-size="8.8" font-weight="normal" text-anchor="start" fill="#262626">Patient F</text>
<rect x="184.20" y="394.70" width="13.4" height="7.2" fill="#000"/>
<rect x="185.96" y="396.46" width="9.87" height="3.67" fill="url(#pGs)"/>
<text x="203.7" y="401.45" font-size="8.8" font-weight="normal" text-anchor="start" fill="#262626">Patient G</text>
<rect x="184.20" y="407.40" width="13.4" height="7.2" fill="#000"/>
<rect x="185.96" y="409.16" width="9.87" height="3.67" fill="url(#pHs)"/>
<text x="203.7" y="414.15" font-size="8.8" font-weight="normal" text-anchor="start" fill="#262626">Patient H</text>
<rect x="184.20" y="420.10" width="13.4" height="7.2" fill="#000"/>
<rect x="185.96" y="421.86" width="9.87" height="3.67" fill="#fff"/>
<rect x="187.98" y="421.86" width="0.9" height="3.67" fill="#000"/>
<rect x="190.45" y="421.86" width="0.9" height="3.67" fill="#000"/>
<rect x="192.92" y="421.86" width="0.9" height="3.67" fill="#000"/>
<rect x="185.96" y="423.25" width="9.87" height="0.9" fill="#000"/>
<text x="203.7" y="426.85" font-size="8.8" font-weight="normal" text-anchor="start" fill="#262626">Patient I</text>
</g>
</svg>
</body></html>
